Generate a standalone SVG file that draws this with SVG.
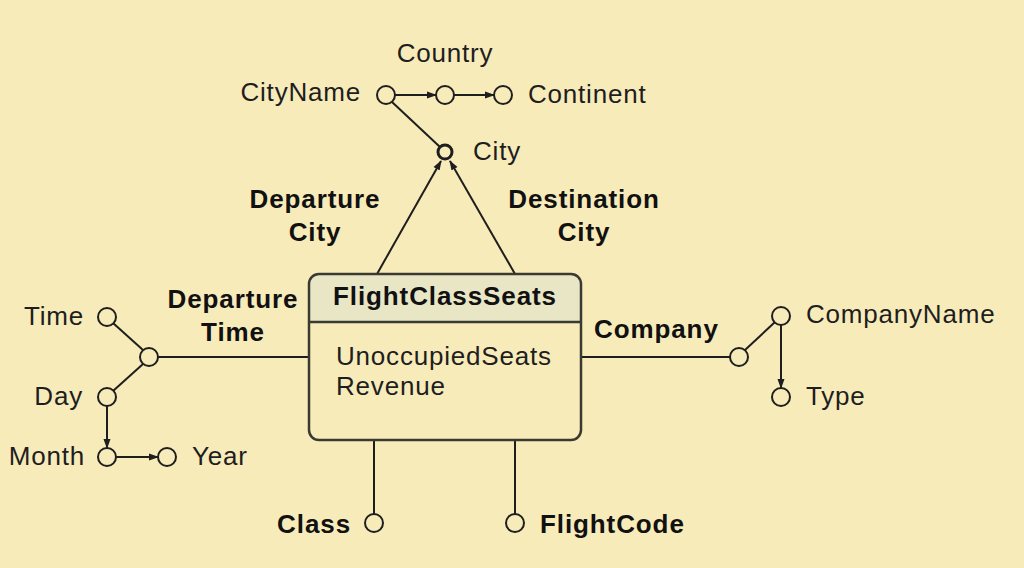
<svg xmlns="http://www.w3.org/2000/svg" width="1024" height="568" viewBox="0 0 1024 568">
<defs>
<marker id="arrs" viewBox="0 0 10 10" refX="9" refY="5" markerWidth="10" markerHeight="10" orient="auto" markerUnits="userSpaceOnUse">
<path d="M0,1.5 L10,5 L0,8.5 z" fill="#1e1e1e"/>
</marker>
<style>
.bg{fill:#f8ebba}
.ln{stroke:#1e1e1e;stroke-width:2;fill:none}
.c{fill:#f8ebba;stroke:#1e1e1e;stroke-width:2}
.t{font-family:"Liberation Sans",Arial,sans-serif;font-size:26px;letter-spacing:0.8px;fill:#1e1e1e}
.b{font-family:"Liberation Sans",Arial,sans-serif;font-size:26px;letter-spacing:0.9px;font-weight:bold;fill:#111}
.m{text-anchor:middle}
.e{text-anchor:end}
</style>
</defs>
<rect class="bg" x="0" y="0" width="1024" height="568"/>
<g id="connectors">
<line class="ln" x1="395" y1="95" x2="436" y2="95" marker-end="url(#arrs)"/>
<line class="ln" x1="454" y1="95" x2="494" y2="95" marker-end="url(#arrs)"/>
<line class="ln" x1="392" y1="102" x2="440" y2="147"/>
<line class="ln" x1="377" y1="274" x2="441" y2="161" marker-end="url(#arrs)"/>
<line class="ln" x1="515" y1="274" x2="450" y2="161" marker-end="url(#arrs)"/>
<line class="ln" x1="309" y1="357" x2="158" y2="357"/>
<line class="ln" x1="113" y1="323" x2="143" y2="350"/>
<line class="ln" x1="113" y1="391" x2="143" y2="364"/>
<line class="ln" x1="107" y1="406" x2="107" y2="448" marker-end="url(#arrs)"/>
<line class="ln" x1="116" y1="457" x2="158" y2="457" marker-end="url(#arrs)"/>
<line class="ln" x1="581" y1="357" x2="730" y2="357"/>
<line class="ln" x1="745" y1="350" x2="775" y2="322"/>
<line class="ln" x1="781" y1="325" x2="781" y2="388" marker-end="url(#arrs)"/>
<line class="ln" x1="374" y1="440" x2="374" y2="514"/>
<line class="ln" x1="515" y1="440" x2="515" y2="514"/>
</g>
<g id="FlightClassSeats">
<path d="M309,322 V284 a10,10 0 0 1 10,-10 H571 a10,10 0 0 1 10,10 V322 z" fill="#e9e6c6"/>
<rect x="309" y="274" width="272" height="166" rx="10" fill="none" stroke="#3a3a30" stroke-width="2.5"/>
<line x1="309" y1="322" x2="581" y2="322" stroke="#3a3a30" stroke-width="2.5"/>
<text class="b m" x="445" y="305">FlightClassSeats</text>
<text class="t" x="336" y="365">UnoccupiedSeats</text>
<text class="t" x="336" y="395">Revenue</text>
</g>
<g id="CityName"><circle class="c" cx="386" cy="95" r="9"/><text class="t e" x="361" y="101">CityName</text></g>
<g id="Country"><circle class="c" cx="445" cy="95" r="9"/><text class="t m" x="445" y="62">Country</text></g>
<g id="Continent"><circle class="c" cx="503" cy="95" r="9"/><text class="t" x="528" y="103">Continent</text></g>
<g id="City"><circle cx="445" cy="152" r="7" fill="#f8ebba" stroke="#1e1e1e" stroke-width="3"/><text class="t" x="473" y="160">City</text></g>
<g id="DepartureCity"><text class="b m" x="315" y="208">Departure</text><text class="b m" x="315" y="241">City</text></g>
<g id="DestinationCity"><text class="b m" x="584" y="208">Destination</text><text class="b m" x="584" y="241">City</text></g>
<g id="DepartureTime"><circle class="c" cx="149" cy="357" r="9"/><text class="b m" x="233" y="308">Departure</text><text class="b m" x="233" y="341">Time</text></g>
<g id="Time"><circle class="c" cx="107" cy="317" r="9"/><text class="t e" x="84" y="325">Time</text></g>
<g id="Day"><circle class="c" cx="107" cy="397" r="9"/><text class="t e" x="83" y="405">Day</text></g>
<g id="Month"><circle class="c" cx="107" cy="457" r="9"/><text class="t e" x="85" y="465">Month</text></g>
<g id="Year"><circle class="c" cx="167" cy="457" r="9"/><text class="t" x="192" y="465">Year</text></g>
<g id="Company"><circle class="c" cx="739" cy="357" r="9"/><text class="b" x="594" y="338">Company</text></g>
<g id="CompanyName"><circle class="c" cx="781" cy="316" r="9"/><text class="t" x="806" y="323">CompanyName</text></g>
<g id="Type"><circle class="c" cx="781" cy="397" r="9"/><text class="t" x="806" y="405">Type</text></g>
<g id="Class"><circle class="c" cx="374" cy="523" r="9"/><text class="b e" x="351" y="533">Class</text></g>
<g id="FlightCode"><circle class="c" cx="515" cy="523" r="9"/><text class="b" x="540" y="533">FlightCode</text></g>
</svg>
